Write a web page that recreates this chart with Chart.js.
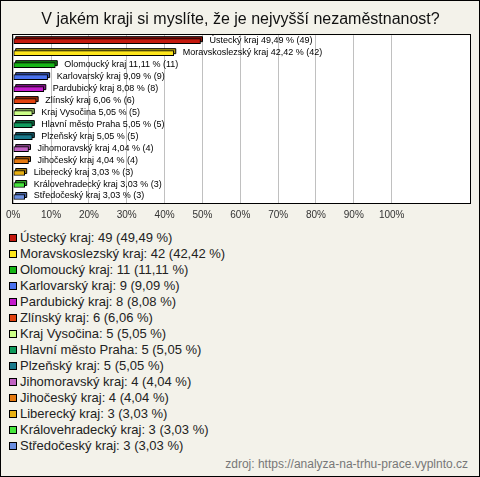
<!DOCTYPE html>
<html>
<head>
<meta charset="utf-8">
<script src="https://cdn.jsdelivr.net/npm/chart.js@4/dist/chart.umd.min.js"></script>
<style>
  html, body { margin: 0; padding: 0; }
  body { width: 480px; height: 477px; position: relative; overflow: hidden; background: #f3f2ea; font-family: "Liberation Sans", Arial, sans-serif; }
  #ramecek { position: absolute; left: 0; top: 0; width: 480px; height: 477px; box-sizing: border-box; border: 1px solid #000; pointer-events: none; z-index: 5; }
  #graf { position: absolute; left: 0; top: 0; width: 480px; height: 227px; }
  #legenda { position: absolute; left: 9px; top: 230px; font-size: 13px; color: #222; }
  .polozka { height: 16px; line-height: 16px; white-space: nowrap; }
  .ctverec { display: inline-block; width: 6px; height: 6px; border: 1px solid #000; margin-right: 3px; vertical-align: 0px; }
  #zdroj { position: absolute; right: 12px; top: 457px; font-size: 12px; color: #777; }
</style>
</head>
<body>
<div id="graf"><canvas id="platno"></canvas></div>
<div id="legenda"></div>
<div id="zdroj">zdroj: https://analyza-na-trhu-prace.vyplnto.cz</div>
<div id="ramecek"></div>
<script>
// data z grafu
const kraje = ['Ústecký kraj', 'Moravskoslezský kraj', 'Olomoucký kraj', 'Karlovarský kraj', 'Pardubický kraj',
  'Zlínský kraj', 'Kraj Vysočina', 'Hlavní město Praha', 'Plzeňský kraj', 'Jihomoravský kraj',
  'Jihočeský kraj', 'Liberecký kraj', 'Královehradecký kraj', 'Středočeský kraj'];
const pocty = [49, 42, 11, 9, 8, 6, 5, 5, 5, 4, 4, 3, 3, 3];
const procenta = [49.49, 42.42, 11.11, 9.09, 8.08, 6.06, 5.05, 5.05, 5.05, 4.04, 4.04, 3.03, 3.03, 3.03];
const barvy = ['#c4190e', '#fde51c', '#16b516', '#4a72ee', '#c31bcb', '#e2430f', '#ccff88', '#0f9a5c',
  '#1a7a8c', '#c062c2', '#e67a0f', '#e8b012', '#46e63c', '#6a8ee0'];
const osaX = [0, 10, 20, 30, 40, 50, 60, 70, 80, 90, 100];

const pismo = '"Liberation Sans", Arial, sans-serif';

function cesky(cislo) {
  return cislo.toFixed(2).replace('.', ',');
}

function tmavsi(hex, k) {
  let r = parseInt(hex.substr(1, 2), 16), g = parseInt(hex.substr(3, 2), 16), b = parseInt(hex.substr(5, 2), 16);
  return 'rgb(' + Math.round(r * k) + ',' + Math.round(g * k) + ',' + Math.round(b * k) + ')';
}

// bile pozadi a cerny ramecek plochy grafu
const plocha = {
  id: 'plocha',
  beforeDraw(chart) {
    const a = chart.chartArea, ctx = chart.ctx;
    ctx.save();
    ctx.fillStyle = '#fff';
    ctx.fillRect(a.left, a.top, a.right - a.left, a.bottom - a.top);
    ctx.restore();
  },
  afterDraw(chart) {
    const a = chart.chartArea, ctx = chart.ctx;
    ctx.save();
    ctx.strokeStyle = '#000';
    ctx.lineWidth = 1;
    ctx.strokeRect(Math.round(a.left) - 0.5, Math.round(a.top) - 0.5, Math.round(a.right - a.left) + 1, Math.round(a.bottom - a.top) + 1);
    ctx.restore();
  }
};

// zadni stena sloupcu (3D efekt)
const hloubka = {
  id: 'hloubka',
  beforeDatasetsDraw(chart) {
    const ctx = chart.ctx;
    const meta = chart.getDatasetMeta(0);
    ctx.save();
    meta.data.forEach((bar, i) => {
      const h = bar.height;
      ctx.fillStyle = tmavsi(barvy[i], 0.7);
      ctx.strokeStyle = '#000';
      ctx.lineWidth = 1;
      ctx.beginPath();
      ctx.rect(bar.base + 2, bar.y - h / 2 - 2, bar.x - bar.base, h);
      ctx.fill();
      ctx.stroke();
    });
    ctx.restore();
  }
};

// popisky vedle sloupcu
const popisky = {
  id: 'popisky',
  afterDatasetsDraw(chart) {
    const ctx = chart.ctx;
    const meta = chart.getDatasetMeta(0);
    ctx.save();
    ctx.font = '9px ' + pismo;
    ctx.fillStyle = '#000';
    ctx.textBaseline = 'middle';
    meta.data.forEach((bar, i) => {
      const text = kraje[i] + ' ' + cesky(procenta[i]) + ' % (' + pocty[i] + ')';
      ctx.fillText(text, bar.x + 9, bar.y - 1);
    });
    ctx.restore();
  }
};

new Chart(document.getElementById('platno'), {
  type: 'bar',
  data: {
    labels: kraje,
    datasets: [{
      data: procenta,
      backgroundColor: barvy,
      borderColor: '#000',
      borderWidth: 1,
      borderSkipped: false,
      barThickness: 5
    }]
  },
  options: {
    indexAxis: 'y',
    responsive: true,
    maintainAspectRatio: false,
    animation: false,
    layout: { padding: { left: 11, right: 10, top: 0, bottom: 0 } },
    plugins: {
      legend: { display: false },
      tooltip: { enabled: false },
      title: {
        display: true,
        text: 'V jakém kraji si myslíte, že je nejvyšší nezaměstnanost?',
        color: '#111',
        font: { family: pismo, size: 16, weight: 'normal' },
        padding: { top: 10, bottom: 6 }
      }
    },
    scales: {
      x: {
        min: 0,
        max: 120.7,
        afterBuildTicks: function(osa) {
          osa.ticks = osaX.map(v => ({ value: v }));
        },
        grid: { color: '#c0c0c0', drawTicks: false },
        border: { display: false },
        ticks: {
          padding: 6,
          color: '#333',
          font: { family: pismo, size: 10 },
          maxRotation: 0,
          callback: v => v + '%'
        }
      },
      y: {
        display: false,
        grid: { display: false }
      }
    }
  },
  plugins: [plocha, hloubka, popisky]
});

// legenda pod grafem
const legenda = document.getElementById('legenda');
kraje.forEach((kraj, i) => {
  const radek = document.createElement('div');
  radek.className = 'polozka';
  const ctverec = document.createElement('span');
  ctverec.className = 'ctverec';
  ctverec.style.background = barvy[i];
  radek.appendChild(ctverec);
  radek.appendChild(document.createTextNode(kraj + ': ' + pocty[i] + ' (' + cesky(procenta[i]) + ' %)'));
  legenda.appendChild(radek);
});
</script>
</body>
</html>
